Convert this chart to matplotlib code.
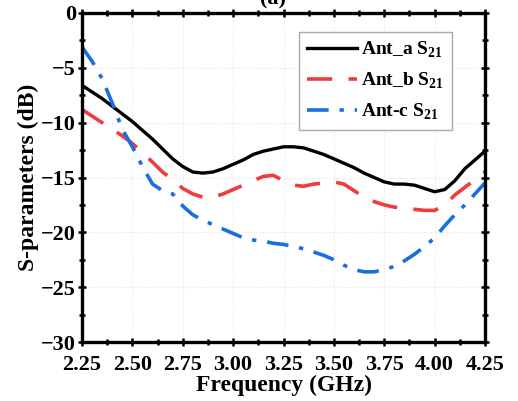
import matplotlib
matplotlib.use('Agg')
import matplotlib.pyplot as plt
import numpy as np

plt.rcParams['font.family'] = 'Liberation Serif'
plt.rcParams['font.weight'] = 'bold'
plt.rcParams['mathtext.fontset'] = 'custom'
plt.rcParams['mathtext.rm'] = 'Liberation Serif:bold'
plt.rcParams['mathtext.bf'] = 'Liberation Serif:bold'

freq = [2.25, 2.30, 2.35, 2.40, 2.45, 2.50, 2.55, 2.60, 2.65, 2.70,
        2.75, 2.80, 2.85, 2.90, 2.95, 3.00, 3.05, 3.10, 3.15, 3.20,
        3.25, 3.30, 3.35, 3.40, 3.45, 3.50, 3.55, 3.60, 3.65, 3.70,
        3.75, 3.80, 3.85, 3.90, 3.95, 4.00, 4.05, 4.10, 4.15, 4.20, 4.25]

s21_a = [-6.6, -7.2, -7.8, -8.5, -9.2, -9.9, -10.7, -11.5, -12.4, -13.3,
         -14.0, -14.5, -14.6, -14.5, -14.2, -13.8, -13.4, -12.9, -12.6, -12.4,
         -12.2, -12.2, -12.3, -12.6, -12.9, -13.3, -13.7, -14.1, -14.6, -15.0,
         -15.4, -15.6, -15.6, -15.7, -16.0, -16.3, -16.1, -15.3, -14.2, -13.4, -12.6]

s21_b = [-8.8, -9.4, -10.0, -10.6, -11.2, -11.9, -12.7, -13.6, -14.5, -15.2,
         -16.0, -16.5, -16.8, -16.8, -16.5, -16.1, -15.7, -15.3, -14.9, -14.8,
         -15.3, -15.7, -15.8, -15.6, -15.5, -15.4, -15.6, -16.2, -16.8, -17.2,
         -17.5, -17.7, -17.8, -17.9, -18.0, -18.0, -17.5, -16.6, -15.9, -15.2, -14.5]

s21_c = [-3.1, -4.4, -6.0, -8.2, -10.6, -12.2, -14.0, -15.6, -16.2, -16.5,
         -17.6, -18.4, -18.9, -19.3, -19.7, -20.1, -20.5, -20.7, -20.8, -21.0,
         -21.1, -21.3, -21.5, -21.8, -22.1, -22.5, -23.0, -23.4, -23.6, -23.6,
         -23.4, -23.1, -22.6, -22.0, -21.3, -20.5, -19.4, -18.4, -17.5, -16.5, -15.5]

labels = [r'Ant_a S$_{21}$', r'Ant_b S$_{21}$', r'Ant-c S$_{21}$']
xticks = [2.25, 2.50, 2.75, 3.00, 3.25, 3.50, 3.75, 4.00, 4.25]
yticks = [-30, -25, -20, -15, -10, -5, 0]

fig = plt.figure(figsize=(5.18, 4.01), dpi=100)
ax = fig.add_axes([82/518, 1-342/401, (485-82)/518, (342-13)/401])

ax.plot(freq, s21_a, color='black', lw=2.4, label=labels[0])
ax.plot(freq, s21_b, color='#f03c3c', lw=2.6, dashes=(7, 4.5), label=labels[1])
ax.plot(freq, s21_c, color='#1a6ee0', lw=2.6, dashes=(6, 3, 1.2, 3), label=labels[2])

ax.set_xlim(2.25, 4.25)
ax.set_ylim(-30, 0)
ax.set_xticks(xticks)
ax.set_xticklabels([f'{t:.2f}' for t in xticks])
ax.set_yticks(yticks)
ax.set_yticklabels([f'{t}'.replace('-', '\u2212') for t in yticks])
ax.set_xticks(np.arange(2.375, 4.25, 0.25), minor=True)
ax.set_yticks(np.arange(-27.5, 0, 5), minor=True)
ax.tick_params(which='both', direction='inout', top=True, right=True, width=1.8)
ax.tick_params(which='major', length=6, labelsize=16)
ax.tick_params(axis='x', which='major', pad=6)
ax.tick_params(axis='y', which='major', pad=1.5)
ax.tick_params(which='minor', length=4)
ax.grid(True, which='major', color='#e4e4e4', ls=':', lw=0.8)
for sp in ax.spines.values():
    sp.set_linewidth(2.4)

ax.set_xlabel('Frequency (GHz)', fontsize=17, fontweight='bold', labelpad=0)
ax.set_ylabel('S-parameters (dB)', fontsize=17, fontweight='bold', labelpad=1)

leg = ax.legend(loc='upper right', bbox_to_anchor=(0.918, 0.942), fontsize=14,
                handlelength=2.6, handletextpad=0.2, labelspacing=0.55,
                borderpad=0.4, borderaxespad=0, fancybox=False, framealpha=1)
leg.get_frame().set_edgecolor('#aaaaaa')
leg.get_frame().set_linewidth(1.0)

fig.text(273/518, 1-4/401, '(a)', ha='center', va='baseline', fontsize=16, fontweight='bold')

fig.savefig('out.png', dpi=100)
